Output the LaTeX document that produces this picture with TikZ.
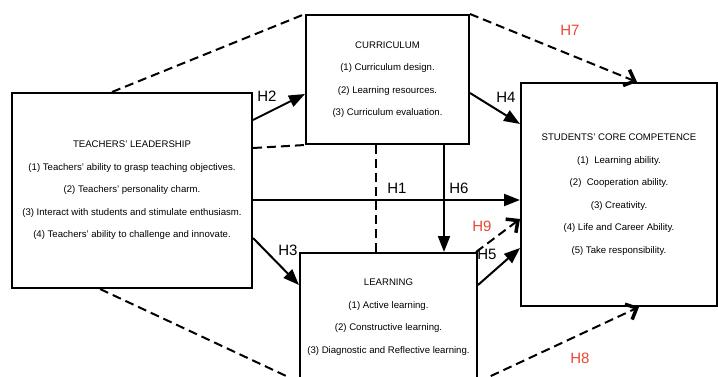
\documentclass[tikz,border=0pt]{standalone}
\usepackage{fontspec}
\setmainfont{Liberation Sans}
\usetikzlibrary{calc}
\usetikzlibrary{arrows.meta}
\definecolor{hred}{RGB}{232,72,52}

\begin{document}
\begin{tikzpicture}[x=1pt,y=-1pt,
  box/.style={draw,line width=2pt,align=center,inner sep=0pt,font=\fontsize{9.6}{22.5}\selectfont},
  solidarrow/.style={line width=2pt,-{Triangle[length=16pt,width=12pt]}},
  dashline/.style={line width=2pt,dash pattern=on 9pt off 5pt},
  dasharrow/.style={dashline,-{Straight Barb[length=9pt,width=17pt,line width=3.5pt]}},
  hlabel/.style={font=\fontsize{15}{15}\selectfont},
  rlabel/.style={hlabel,text=hred}]
\useasboundingbox (0,0) rectangle (718,377);
\clip (0,0) rectangle (718,377);
\node[box,minimum width=240pt,minimum height=195pt] (teach) at (132,190.5) {TEACHERS' LEADERSHIP\\(1) Teachers' ability to grasp teaching objectives.\\(2) Teachers' personality charm.\\(3) Interact with students and stimulate enthusiasm.\\(4) Teachers' ability to challenge and innovate.};
\node[box,minimum width=163pt,minimum height=129pt] (curr) at (387.5,79.5) {CURRICULUM\\(1) Curriculum design.\\(2) Learning resources.\\(3) Curriculum evaluation.};
\node[box,minimum width=177pt,minimum height=128pt] (learn) at (388.5,317) {LEARNING\\(1) Active learning.\\(2) Constructive learning.\\(3) Diagnostic and Reflective learning.};
\node[box,minimum width=196pt,minimum height=223pt] (comp) at (619,194.5) {STUDENTS' CORE COMPETENCE\\(1)\ \ Learning ability.\\(2)\ \ Cooperation ability.\\(3) Creativity.\\(4) Life and Career Ability.\\(5) Take responsibility.};
\coordinate (c1) at ($(curr.south west)+(71,0)$);
\coordinate (c2) at ($(curr.south west)+(139,0)$);
% dashed links
\draw[dashline] ($(teach.north)+(-20,0)$) -- (curr.north west);
\draw[dashline] ($(teach.north east)+(0,56)$) -- (curr.south west);
\draw[dashline] (c1) -- (c1 |- learn.north);
\draw[dashline] ($(teach.south)+(-32,0)$) -- (learn.south west);
\draw[dasharrow] (curr.north east) -- ($(comp.north west)+(117,0)$);
\draw[dasharrow] ($(learn.north east)+(-2,0)$) -- ($(comp.north west)+(0,137)$);
\draw[dasharrow] (learn.south east) -- ($(comp.south west)+(119,0)$);
% hypotheses
\draw[solidarrow] ($(teach.north east)+(0,28)$) -- ($(curr.north west)+(0,80)$);
\draw[solidarrow] ($(curr.north east)+(0,79)$) -- ($(comp.north west)+(0,42)$);
\draw[solidarrow] ($(teach.north east)+(0,108)$) -- ($(comp.north west)+(0,118)$);
\draw[solidarrow] (c2) -- (c2 |- learn.north);
\draw[solidarrow] ($(learn.north east)+(0,33)$) -- ($(comp.north west)+(0,166)$);
\draw[solidarrow] ($(teach.north east)+(0,146)$) -- ($(learn.north west)+(0,33)$);
\node[hlabel] (h1) at (397,188) {H1};
\node[hlabel] (h2) at (267,96) {H2};
\node[hlabel] (h3) at (288,250) {H3};
\node[hlabel] (h4) at (506,97) {H4};
\node[hlabel] (h5) at (487,254) {H5};
\node[hlabel] (h6) at (459,188) {H6};
\node[rlabel] (h7) at (570,30) {H7};
\node[rlabel] (h8) at (580,358) {H8};
\node[rlabel] (h9) at (482,226) {H9};
\end{tikzpicture}
\end{document}
